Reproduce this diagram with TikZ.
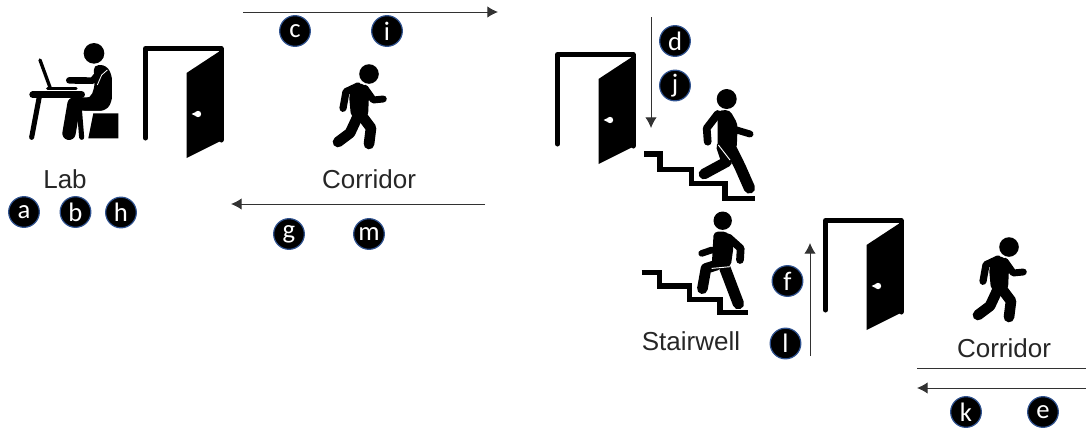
\documentclass[tikz,border=0pt]{standalone}
\usepackage{fontspec}
\setmainfont{Liberation Sans}
\newfontfamily\badgefont{Carlito}
\usetikzlibrary{arrows.meta}
\definecolor{badgeblue}{RGB}{47,82,143}
\definecolor{lineink}{RGB}{50,50,50}
\tikzset{
  badge/.style={circle,fill=black,draw=badgeblue,line width=0.9pt,minimum size=23pt,inner sep=0pt,
    text=white,font=\badgefont\fontsize{20}{20}\selectfont},
  place/.style={font=\fontsize{19.5}{20}\selectfont,text=black!85,inner sep=0pt},
  route/.style={draw=lineink,line width=0.7pt},
  limb/.style={draw=black,line width=#1,line cap=round,line join=round},
  stairline/.style={draw=black,line width=4.1pt,line join=miter},
  doorpic/.pic={
    \draw [limb=3.75pt] (2.5,92) -- (2.5,2.5) -- (78,2.5) -- (78,94);
    \fill (43.5,27) -- (78.5,4) -- (79.5,94) -- (43.5,112) -- cycle;
    \fill [white] (55,68) circle (3.2) (48.5,68) -- (55,65) -- (55,71) -- cycle;
  },
  walkerpic/.pic={
    \fill (0,0) circle (9.8);
    \fill [rounded corners=3pt] (-7,9) -- (-1,14) -- (0,21) -- (-1,43) -- (-18,43) -- (-20,21) -- (-15,10.5) -- cycle;
    \draw [limb=5.4pt] (-11,12) -- (-23,17.7) -- (-26,34.3);
    \draw [limb=5.2pt] (-4,14.3) -- (4.3,26) -- (14.3,25);
    \draw [limb=8pt] (-12,44) -- (-19,59) -- (-31,68);
    \draw [limb=8pt] (-7,42) -- (2,54) -- (0,70);
  },
  climbdownpic/.pic={
    \fill (0,0) circle (10);
    \draw [stairline] (-82.3,55) -- (-66.7,55) -- (-66.7,70.3) -- (-35,70.3) -- (-35,84.3) -- (-1.7,84.3) -- (-1.7,99.3) -- (28.3,99.3);
    \fill [rounded corners=3pt] (-9,11.5) -- (3,11) -- (11,25) -- (10,50) -- (-9,50) -- cycle;
    \draw [limb=5.8pt] (-9,15) -- (-20,29.3) -- (-19,42.7);
    \draw [limb=5.2pt] (10,31) -- (23.3,35);
    \draw [limb=8pt] (-5,48) -- (0,62.7) -- (-22.7,75);
    \draw [limb=8.5pt] (1.7,44.3) -- (13.3,67.7) -- (22.7,89);
    \draw [white,line width=0.7pt] (-8.3,46) -- (3.3,61);
  },
  climbuppic/.pic={
    \fill (0,0) circle (9.2);
    \draw [stairline] (-81,51.7) -- (-63.3,51.7) -- (-63.3,65.3) -- (-33.3,65.3) -- (-33.3,78.7) -- (-2.7,78.7) -- (-2.7,92) -- (25.7,92);
    \fill [rounded corners=3pt] (-9,11) -- (5,11) -- (11,25) -- (8,46) -- (-11,46) -- cycle;
    \draw [limb=5.8pt] (5.7,16.7) -- (18,27.7) -- (17.3,39.3);
    \draw [limb=5pt] (-11,29.3) -- (-21,32.7);
    \draw [limb=8pt] (-6,44.3) -- (-16.7,47.7) -- (-20.3,68);
    \draw [limb=8.5pt] (2.3,47.7) -- (15.7,83);
    \draw [white,line width=0.7pt] (-11,47.7) -- (7.3,46);
  },
  deskpic/.pic={
    % person
    \fill (282,70) circle (31);
    \fill [rounded corners=4pt] (280,105) -- (318,105) -- (336,135) -- (336,215) -- (318,242) -- (238,242) -- (238,205) -- (272,205) -- (285,165) -- cycle;
    \draw [limb=10pt] (300,222) -- (222,222) -- (207,310);
    \draw [limb=5pt] (300,125) -- (278,152) -- (208,151);
    \draw [white,line width=0.6pt] (322,120) -- (305,135) -- (292,165);
    % table and laptop
    \draw [limb=3.8pt] (118,200) -- (95,322);
    \draw [limb=3.8pt] (235,200) -- (245,322);
    \draw [limb=5pt] (98,194) -- (245,194);
    \draw [limb=2.5pt] (143,175) -- (228,175);
    \draw [limb=2.5pt] (120,90) -- (150,172);
    % stool
    \fill (280,250) -- (355,250) -- (355,325) -- (265,325) -- cycle;
  },
  >={Latex[length=8pt,width=8.5pt]}
}
\begin{document}
\begin{tikzpicture}[x=0.75pt,y=-0.75pt]
  \useasboundingbox (0,0) rectangle (1086,436);

  % Pictograms
  \pic at (0,30) [scale=1/3] {deskpic};
  \pic at (143,46) {doorpic};
  \pic at (369,74) {walkerpic};
  \pic at (555,52) {doorpic};
  \pic at (726.7,99) {climbdownpic};
  \pic at (722.7,220.7) {climbuppic};
  \pic at (823,218) {doorpic};
  \pic at (1009,247) {walkerpic};

  % Place names
  \node [place] (lab) at (65,179) {Lab};
  \node [place] (corridorA) at (369,179) {Corridor};
  \node [place] (stairwell) at (691,341) {Stairwell};
  \node [place] (corridorB) at (1004,348) {Corridor};

  % Lettered badges
  \foreach \lab/\x/\y in {
    a/24/212,
    b/75.5/212,
    h/121/212.5,
    c/295/31,
    i/387/31,
    g/289/234,
    m/369/234,
    d/675/41,
    j/675/85.5,
    f/787.5/281,
    l/785.5/343.5,
    k/966/412,
    e/1043/412} {
    \node [badge] (badge\lab) at (\x,\y) {\lab};
  }

  % Route ends
  \foreach \name/\x/\y in {
    topA/243/12,
    topB/498/12,
    backA/485/204,
    backB/231/204,
    downA/651/17,
    downB/651/128,
    upA/810/356,
    upB/810/243,
    floorA/917/368,
    floorB/1086/368,
    lowA/1086/388,
    lowB/917/388} {
    \coordinate (\name) at (\x,\y);
  }

  % Routes
  \draw [route,->] (topA) -- (topB);
  \draw [route,->] (backA) -- (backB);
  \draw [route,->] (downA) -- (downB);
  \draw [route,->] (upA) -- (upB);
  \draw [route] (floorA) -- (floorB);
  \draw [route,->] (lowA) -- (lowB);
\end{tikzpicture}
\end{document}
